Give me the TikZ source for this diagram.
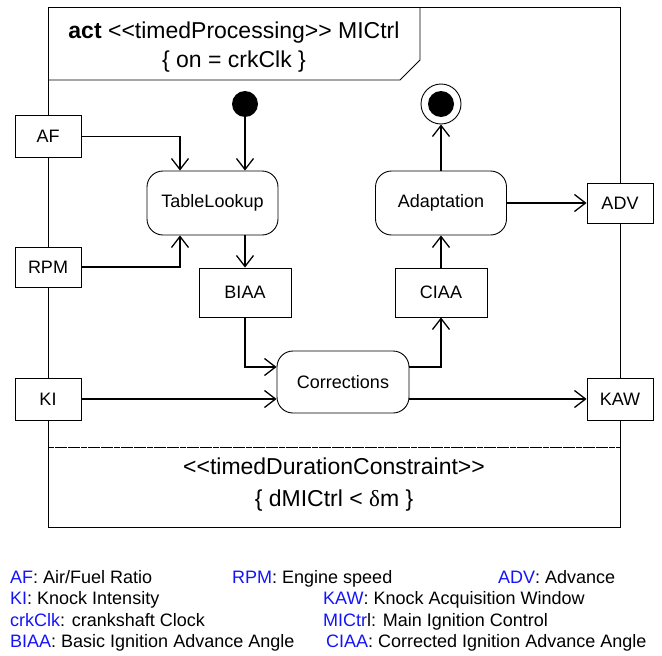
\documentclass[tikz,border=0pt]{standalone}
\usepackage{fontspec}
\setmainfont{Liberation Sans}
\newfontfamily\serifgreek{Liberation Serif}
\usetikzlibrary{arrows.meta,calc}
\definecolor{legblue}{RGB}{20,20,250}
\begin{document}
\begin{tikzpicture}[x=1pt,y=-1pt,
  font=\fontsize{18}{21}\selectfont,
  outerframe/.style={draw=black,line width=0.9pt},
  pinbox/.style={draw=black,fill=white,line width=0.9pt,minimum width=66pt,minimum height=42pt,inner sep=0pt},
  objbox/.style={draw=black,fill=white,line width=0.9pt,minimum width=92pt,minimum height=49pt,inner sep=0pt},
  actbox/.style={draw=black,fill=white,rounded corners=16pt,line width=0.9pt,minimum width=131pt,minimum height=64pt,inner sep=0pt},
  flow/.style={line width=1.3pt,-{Straight Barb[length=11pt,width=17pt,line width=1.3pt]}},
  legtext/.style={anchor=base west,inner sep=0pt,font=\fontsize{18}{21}\selectfont}
]
\useasboundingbox (0,0) rectangle (662,656);

% frame, header and constraint compartment
\draw[outerframe] (48,7) rectangle (620,527);
\draw[outerframe] (48,80) -- (400,80) -- (420,60) -- (420,7);
\draw[line width=1.6pt,dash pattern=on 6pt off 0.6pt] (48,447.5) -- (620,447.5);

\node[font=\fontsize{23}{29}\selectfont,align=center,inner sep=0pt] (hdr) at (234,47)
  {\textbf{act} <{}<timedProcessing>{}> MICtrl\\\{ on = crkClk \}};
\node[font=\fontsize{23}{32}\selectfont,align=center,inner sep=0pt] (con) at (334,485)
  {<{}<timedDurationConstraint>{}>\\\{ dMICtrl < {\serifgreek δ}m \}};

% control nodes
\node[circle,fill=black,minimum size=26pt,inner sep=0pt] (init) at (245,104) {};
\node[circle,draw=black,line width=0.9pt,minimum size=40pt,inner sep=0pt] (final) at (441,104) {};
\fill[black] (final.center) circle (13pt);

% actions
\node[actbox] (tl) at (212.5,203) {TableLookup};
\node[actbox] (ad) at (441,203) {Adaptation};
\node[actbox,minimum width=132pt,minimum height=62pt] (co) at (343,382) {Corrections};

% object nodes
\node[objbox] (bi) at (245,292.5) {BIAA};
\node[objbox] (ci) at (441,292.5) {CIAA};

% pins
\node[pinbox] (af) at (48,136.5) {AF};
\node[pinbox,minimum height=40pt] (rpm) at (48,267) {RPM};
\node[pinbox] (ki) at (48,399) {KI};
\node[pinbox,minimum height=40pt] (adv) at (620,203) {ADV};
\node[pinbox] (kaw) at (620,399) {KAW};

% flows
\draw[flow] (af.east) -| ([xshift=-32.5pt]tl.north);
\draw[flow] (init.south) -- (init.south |- tl.north);
\draw[flow] (rpm.east) -| ([xshift=-32.5pt]tl.south);
\draw[flow] (bi.north |- tl.south) -- (bi.north);
\draw[flow] (bi.south) |- ([yshift=15pt]co.west);
\draw[flow] (ki.east) -- (ki.east -| co.west);
\draw[flow] ([yshift=15pt]co.east) -| (ci.south);
\draw[flow] (ci.north) -- (ad.south);
\draw[flow] (ad.north) -- (final.south);
\draw[flow] (ad.east) -- (adv.west);
\draw[flow] (co.east |- kaw.west) -- (kaw.west);

% legend
\node[legtext] (l1) at (10,583) {\textcolor{legblue}{AF}: Air/Fuel Ratio};
\node[legtext] (l2) at (232,583) {\textcolor{legblue}{RPM}: Engine speed};
\node[legtext] (l3) at (498,583) {\textcolor{legblue}{ADV}: Advance};
\node[legtext] (l4) at (10,604.5) {\textcolor{legblue}{KI}: Knock Intensity};
\node[legtext] (l5) at (323,604.5) {\textcolor{legblue}{KAW}: Knock Acquisition Window};
\node[legtext] (l6) at (10,626) {\textcolor{legblue}{crkClk}: crankshaft Clock};
\node[legtext] (l7) at (323,626) {\textcolor{legblue}{MICtr}l: Main Ignition Control};
\node[legtext] (l8) at (10,647.5) {\textcolor{legblue}{BIAA}: Basic Ignition Advance Angle};
\node[legtext] (l9) at (326,647.5) {\textcolor{legblue}{CIAA}: Corrected Ignition Advance Angle};
\end{tikzpicture}
\end{document}
